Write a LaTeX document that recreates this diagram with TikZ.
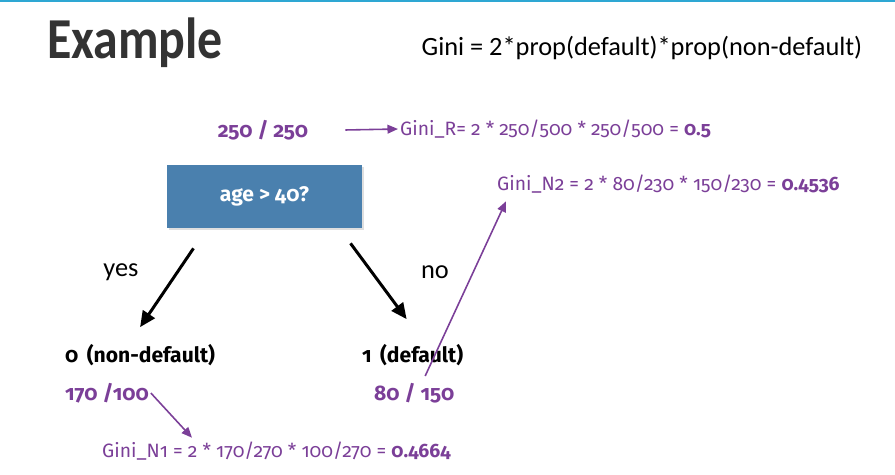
\documentclass[tikz,border=0pt]{standalone}
\usepackage{fontspec}
\setmainfont{Fira Sans}[Numbers=OldStyle]
\newfontfamily\calfont{Carlito}
\usetikzlibrary{arrows.meta,shadows}
\definecolor{ginipurple}{HTML}{7B3F98}
\definecolor{boxblue}{HTML}{4A80AE}
\definecolor{topline}{HTML}{2EA7D3}
\begin{document}
\begin{tikzpicture}[
        x=0.02cm, y=-0.02cm,
        treearrow/.style={-{Triangle[length=9pt,width=8pt]}, line width=1.7pt, black},
        giniarrow/.style={-{Triangle[length=6pt,width=5pt]}, line width=0.9pt, ginipurple},
    ]
    \tikzset{
        textnode/.style = {inner sep=1pt, anchor=west},
        purplenum/.style = {textnode, text=ginipurple, font=\bfseries\fontsize{12}{14}\selectfont},
        ginitext/.style = {textnode, text=ginipurple, font=\fontsize{11}{13}\selectfont},
        leaflabel/.style = {textnode, font=\bfseries\fontsize{12}{14}\selectfont},
        edgelabel/.style = {font=\calfont\fontsize{15}{18}\selectfont},
        splitbox/.style = {rectangle, fill=boxblue, text=white, minimum width=3.9cm, minimum height=1.26cm,
            font=\bfseries\fontsize{12}{14}\selectfont, drop shadow={opacity=0.25, shadow xshift=1pt, shadow yshift=-1pt}},
    }
    \useasboundingbox (0,0) rectangle (895,475);
    \fill[topline] (0,0) rectangle (895,2);
    \node[text=black!80, font=\calfont\bfseries\fontsize{33}{40}\selectfont] (title) at (135,43) {\scalebox{0.86}[1]{Example}};
    \node[font=\calfont\fontsize{15}{18}\selectfont] (formula) at (642,48) {Gini = 2*prop(default)*prop(non-default)};
    \node[purplenum, anchor=center] (root) at (263,130) {250 / 250};
    \node[ginitext] (ginir) at (398,129) {Gini\_R= 2 * 250/500 * 250/500 = \textbf{0.5}};
    \node[splitbox] (split) at (264.5,196.5) {age > 40?};
    \node[ginitext] (gini2) at (495,184) {Gini\_N2 = 2 * 80/230 * 150/230 = \textbf{0.4536}};
    \node[leaflabel] (leaf0) at (63,355) {0\, (non-default)};
    \node[leaflabel] (leaf1) at (360,355) {1\, (default)};
    \node[purplenum] (count0) at (63,393) {170 /100};
    \node[purplenum] (count1) at (372,393) {80 / 150};
    \node[ginitext] (gini1) at (100,451) {Gini\_N1 = 2 * 170/270 * 100/270 = \textbf{0.4664}};
    \node[edgelabel] (yes) at (121,272) {yes};
    \node[edgelabel] (no) at (435,272) {no};
    \draw[giniarrow] ([xshift=20]root.east) -- (ginir.west);
    \draw[treearrow] ([shift={(-71,20)}]split.south) -- ([shift={(0,-15)}]leaf0.north);
    \draw[treearrow] ([shift={(86,15)}]split.south) -- ([shift={(-6,-23)}]leaf1.north);
    \draw[giniarrow] (count0.east) -- ([shift={(92,-2)}]gini1.north west);
    \draw[giniarrow] ([shift={(11,-5)}]count1.north) -- ([shift={(11,6)}]gini2.south west);
\end{tikzpicture}
\end{document}
